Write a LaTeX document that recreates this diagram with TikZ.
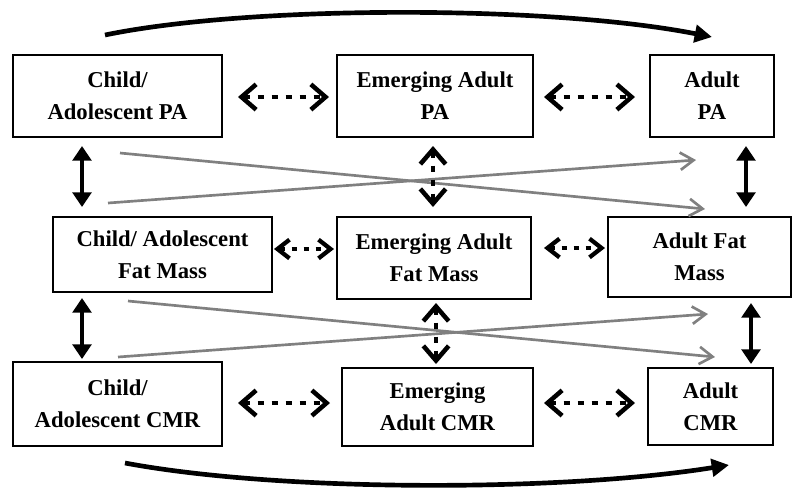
\documentclass[tikz,border=0pt]{standalone}
\usepackage{fontspec}
\setmainfont{Liberation Serif}
\usetikzlibrary{arrows.meta,calc}
\tikzset{
  box/.style={draw, line width=1.5pt, inner sep=0pt, align=center,
    font=\fontsize{17}{24}\selectfont\bfseries},
  dotarrow/.style={line width=3.4pt, dash pattern=on 4.5pt off 6pt,
    {Straight Barb[length=11pt,width=19pt]}-{Straight Barb[length=11pt,width=19pt]}},
  smalldotarrow/.style={line width=3.2pt, dash pattern=on 4pt off 5pt,
    {Straight Barb[length=9pt,width=14pt]}-{Straight Barb[length=9pt,width=14pt]}},
  solidarrow/.style={line width=3pt,
    {Triangle[length=11pt,width=14pt]}-{Triangle[length=11pt,width=14pt]}},
  grayarrow/.style={draw=black!50, line width=2pt,
    -{Straight Barb[length=10pt,width=13pt]}},
  curvearrow/.style={line width=3.5pt, -{Triangle[length=13pt,width=13pt]}}
}
\begin{document}
\begin{tikzpicture}[x=0.75pt,y=-0.75pt]
\useasboundingbox (0,0) rectangle (793,487);
% nodes
\node[box, minimum width=156.75pt, minimum height=61.5pt] (cpa) at (117.5,96) {Child/\\Adolescent PA};
\node[box, minimum width=147pt, minimum height=61.5pt] (epa) at (435,96) {Emerging Adult\\PA};
\node[box, minimum width=93pt, minimum height=61.5pt] (apa) at (712,96) {Adult\\PA};
\node[box, minimum width=164.25pt, minimum height=56.25pt] (cfm) at (162.5,254.5) {Child/ Adolescent\\Fat Mass};
\node[box, minimum width=145.5pt, minimum height=61.5pt] (efm) at (434,258) {Emerging Adult\\Fat Mass};
\node[box, minimum width=137.25pt, minimum height=60pt] (afm) at (699.5,257) {Adult Fat\\Mass};
\node[box, minimum width=156.75pt, minimum height=63pt] (ccmr) at (117.5,404) {Child/\\Adolescent CMR};
\node[box, minimum width=143.25pt, minimum height=58.5pt] (ecmr) at (437.5,407) {Emerging\\Adult CMR};
\node[box, minimum width=93.75pt, minimum height=57.75pt] (acmr) at (710.5,406.5) {Adult\\CMR};
% gray cross arrows
\draw[grayarrow] ($(cpa.south)+(2.5,15)$) -- ($(afm.north)+(5.5,-7)$);
\draw[grayarrow] ($(cfm.north)+(-54.5,-13)$) -- ($(apa.south)+(-16,22)$);
\draw[grayarrow] ($(cfm.south)+(-34.5,8)$) -- ($(acmr.north)+(4.5,-10)$);
\draw[grayarrow] ($(ccmr.north)+(0.5,-4)$) -- ($(afm.south)+(8.5,16)$);
% dotted horizontal
\draw[dotarrow] ($(cpa.east)+(15,1)$) -- ($(epa.west)+(-7,1)$);
\draw[dotarrow] ($(epa.east)+(10,1)$) -- ($(apa.west)+(-14,1)$);
\draw[smalldotarrow] ($(cfm.east)+(1,-5.5)$) -- ($(efm.west)+(-2,-9)$);
\draw[smalldotarrow] ($(efm.east)+(12,-10)$) -- ($(afm.west)+(-2,-9)$);
\draw[dotarrow] ($(ccmr.east)+(15,-1)$) -- ($(ecmr.west)+(-11,-4)$);
\draw[dotarrow] ($(ecmr.east)+(10,-4)$) -- ($(acmr.west)+(-12,-3.5)$);
% dotted vertical
\draw[dotarrow] ($(epa.south)+(-2,8)$) -- ($(efm.north)+(-1,-9)$);
\draw[dotarrow] ($(efm.south)+(2,3)$) -- ($(ecmr.north)+(-1.5,-3)$);
% solid vertical
\draw[solidarrow] ($(cpa.south)+(-35.5,8)$) -- ($(cfm.north)+(-80.5,-9)$);
\draw[solidarrow] ($(cfm.south)+(-80.5,5)$) -- ($(ccmr.north)+(-35.5,-2)$);
\draw[solidarrow] ($(apa.south)+(34,8)$) -- ($(afm.north)+(46.5,-9)$);
\draw[solidarrow] ($(afm.south)+(51.5,5)$) -- ($(acmr.north)+(40.5,-3)$);
% curved arrows
\draw[curvearrow] ($(cpa.north)+(-12.5,-19)$) .. controls (250,5) and (550,5) .. ($(apa.north)+(0,-17)$);
\draw[curvearrow] ($(ccmr.south)+(7.5,16)$) .. controls (280,492) and (560,492) .. ($(acmr.south)+(18.5,19)$);
\end{tikzpicture}
\end{document}
